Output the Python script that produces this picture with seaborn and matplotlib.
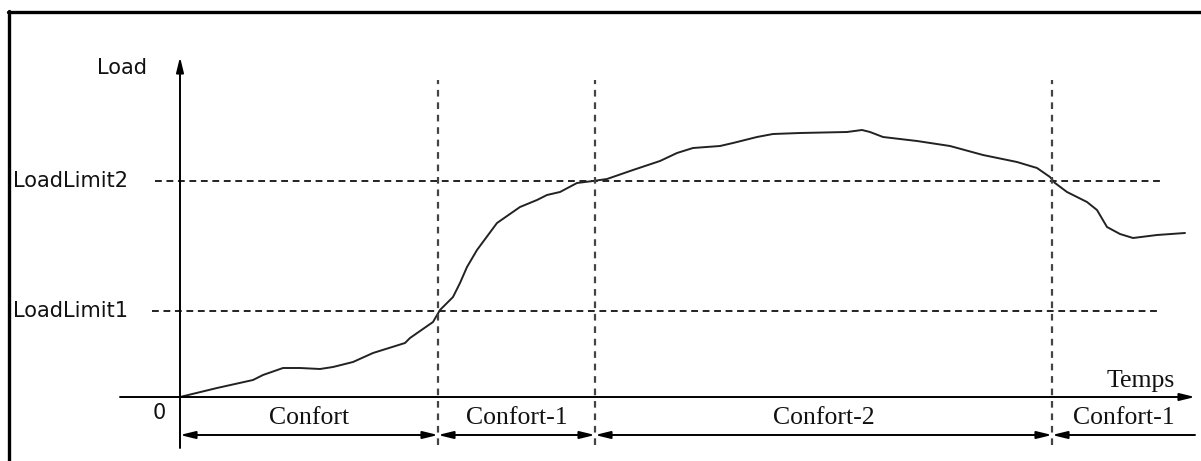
import numpy as np
import pandas as pd
import matplotlib
matplotlib.use("Agg")
import matplotlib.pyplot as plt
from matplotlib.lines import Line2D
import seaborn as sns

# load curve (time from origin, load above the time axis)
time = [0, 37, 73, 83, 103, 120, 140, 153, 173, 193, 225, 230, 253, 260, 273,
        280, 287, 297, 317, 340, 357, 367, 380, 397, 413, 427, 453, 480, 497,
        513, 540, 553, 577, 593, 620, 667, 682, 690, 703, 737, 770, 803, 837,
        857, 870, 875, 887, 907, 917, 927, 940, 953, 977, 1005]
load = [0, 9, 17, 22, 29, 29, 28, 30, 35, 44, 54, 59, 75, 87, 100,
        114, 130, 147, 174, 190, 197, 202, 205, 214, 216, 218, 227, 236, 244,
        249, 251, 254, 260, 263, 264, 265, 267, 265, 260, 256, 251, 242, 235,
        229, 220, 214, 205, 195, 187, 170, 163, 159, 162, 164]

load_limits = [86, 216]
limit_labels = ["LoadLimit1", "LoadLimit2"]
phase_edges = [0, 258, 415, 872, 1015]
phase_labels = ["Confort", "Confort-1", "Confort-2", "Confort-1"]

df = pd.DataFrame({"Temps": time, "Load": load})

sns.set_style("white")
fig = plt.figure(figsize=(12.01, 4.61), dpi=100)
ax = fig.add_axes([0, 0, 1, 1])
ax.set_xlim(-180, 1021)
ax.set_ylim(-64, 397)
ax.axis("off")

sns.lineplot(data=df, x="Temps", y="Load", ax=ax, color="#222222", lw=1.4)

sans = dict(fontsize=15, family="DejaVu Sans", color="#111111")
serif = dict(fontsize=18.5, family="Liberation Serif", color="#111111")

# limit lines
for lim, lab, start in zip(load_limits, limit_labels, [-28, -25]):
    ax.plot([start, 980], [lim, lim], color="#222222", lw=1.4, ls=(0, (3.5, 2.4)))
    ax.text(-167, lim, lab, ha="left", va="center", **sans)

# phase boundaries
for t in phase_edges[1:-1]:
    ax.plot([t, t], [-48, 317], color="#444444", lw=1.6, ls=(0, (3, 2.6)))

# axes with arrows
arrow = dict(arrowstyle="-|>,head_length=0.9,head_width=0.22", color="black",
             lw=1.4, shrinkA=0, shrinkB=0)
ax.annotate("", xy=(1015, 0), xytext=(-60, 0), arrowprops=arrow)
ax.annotate("", xy=(0, 340), xytext=(0, -51), arrowprops=arrow)
ax.text(-33, 329, "Load", ha="right", va="center", **sans)
ax.text(-14, -16, "0", ha="right", va="center", **sans)
ax.text(995, 16, "Temps", ha="right", va="center", **serif)

# phase spans
span_y = -38
for i, lab in enumerate(phase_labels):
    a, b = phase_edges[i], phase_edges[i + 1]
    style = "<|-|>" if i < len(phase_labels) - 1 else "<|-"
    ax.annotate("", xy=(b, span_y), xytext=(a, span_y),
                arrowprops=dict(arrowstyle=style + ",head_length=0.9,head_width=0.22",
                                color="black", lw=1.4, shrinkA=0, shrinkB=0))
    ax.text((a + b) / 2, -21, lab, ha="center", va="center", **serif)

# picture frame (left and top edges)
fig.add_artist(Line2D([9 / 1201, 9 / 1201], [0, 1 - 11 / 461], color="black", lw=2.4))
fig.add_artist(Line2D([8 / 1201, 1], [1 - 12 / 461, 1 - 12 / 461], color="black", lw=2.4))

fig.savefig("out.png", dpi=100)
